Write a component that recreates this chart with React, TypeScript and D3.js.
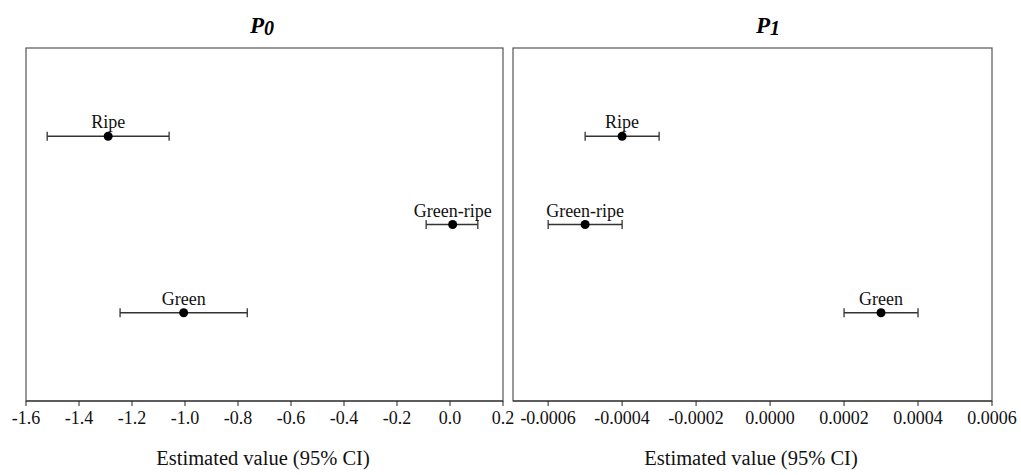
import React from "react";
import * as d3 from "d3";

const categories = ["Ripe", "Green-ripe", "Green"];

const p0Estimate = [-1.29, 0.01, -1.005];
const p0Lower = [-1.52, -0.09, -1.245];
const p0Upper = [-1.06, 0.105, -0.765];
const p0Ticks = [-1.6, -1.4, -1.2, -1.0, -0.8, -0.6, -0.4, -0.2, 0.0, 0.2];

const p1Estimate = [-0.0004, -0.0005, 0.0003];
const p1Lower = [-0.0005, -0.0006, 0.0002];
const p1Upper = [-0.0003, -0.0004, 0.0004];
const p1Ticks = [-0.0006, -0.0004, -0.0002, 0.0, 0.0002, 0.0004, 0.0006];

const W = 1021;
const H = 475;
const TOP = 48;
const BOTTOM = 401;
const FONT = "'Liberation Serif', 'Times New Roman', serif";

type PanelProps = {
  title: string;
  sub: string;
  domain: [number, number];
  range: [number, number];
  ticks: number[];
  decimals: number;
  est: number[];
  lo: number[];
  hi: number[];
  titleX: number;
};

function Panel(p: PanelProps) {
  const x = d3.scaleLinear().domain(p.domain).range(p.range);
  const y = d3.scaleLinear().domain([0, 4]).range([TOP, BOTTOM]);
  const fmt = (v: number) => d3.format(`.${p.decimals}f`)(v).replace("\u2212", "-");
  const [x0, x1] = p.range;
  const cx = (x0 + x1) / 2;
  return (
    <g>
      <rect x={x0} y={TOP} width={x1 - x0} height={BOTTOM - TOP} fill="none" stroke="#555" strokeWidth={1.2} />
      <line x1={x0} x2={x1} y1={BOTTOM} y2={BOTTOM} stroke="#222" strokeWidth={1.2} />
      {p.ticks.map((t, i) => (
        <g key={i}>
          <line x1={x(t)} x2={x(t)} y1={BOTTOM} y2={BOTTOM + 5} stroke="#222" strokeWidth={1} />
          <text x={x(t)} y={424} textAnchor="middle" fontFamily={FONT} fontSize={18} fill="#111">
            {fmt(t)}
          </text>
        </g>
      ))}
      <text x={cx - 1.5} y={465} textAnchor="middle" fontFamily={FONT} fontSize={20.5} fill="#111">
        Estimated value (95% CI)
      </text>
      <text x={p.titleX} y={33} textAnchor="middle" fontFamily={FONT} fontSize={23} fontWeight="bold" fontStyle="italic" fill="#000">
        {p.title}
        <tspan fontSize={20} dy={2}>{p.sub}</tspan>
      </text>
      {categories.map((c, i) => {
        const yy = y(i + 1);
        return (
          <g key={c}>
            <line x1={x(p.lo[i])} x2={x(p.hi[i])} y1={yy} y2={yy} stroke="#333" strokeWidth={1.3} />
            <line x1={x(p.lo[i])} x2={x(p.lo[i])} y1={yy - 4.5} y2={yy + 4.5} stroke="#333" strokeWidth={1.3} />
            <line x1={x(p.hi[i])} x2={x(p.hi[i])} y1={yy - 4.5} y2={yy + 4.5} stroke="#333" strokeWidth={1.3} />
            <circle cx={x(p.est[i])} cy={yy} r={4.5} fill="#000" />
            <text x={x(p.est[i])} y={yy - 8} textAnchor="middle" fontFamily={FONT} fontSize={18} fill="#111">
              {c}
            </text>
          </g>
        );
      })}
    </g>
  );
}

export default function App() {
  return (
    <svg width={W} height={H} style={{ position: "absolute", left: 0, top: 0, background: "#fff" }}>
      <Panel
        title="P"
        sub="0"
        domain={[-1.6, 0.2]}
        range={[26, 503]}
        ticks={p0Ticks}
        decimals={1}
        est={p0Estimate}
        lo={p0Lower}
        hi={p0Upper}
        titleX={262}
      />
      <Panel
        title="P"
        sub="1"
        domain={[-0.000695, 0.0006]}
        range={[513, 992]}
        ticks={p1Ticks}
        decimals={4}
        est={p1Estimate}
        lo={p1Lower}
        hi={p1Upper}
        titleX={768}
      />
    </svg>
  );
}
